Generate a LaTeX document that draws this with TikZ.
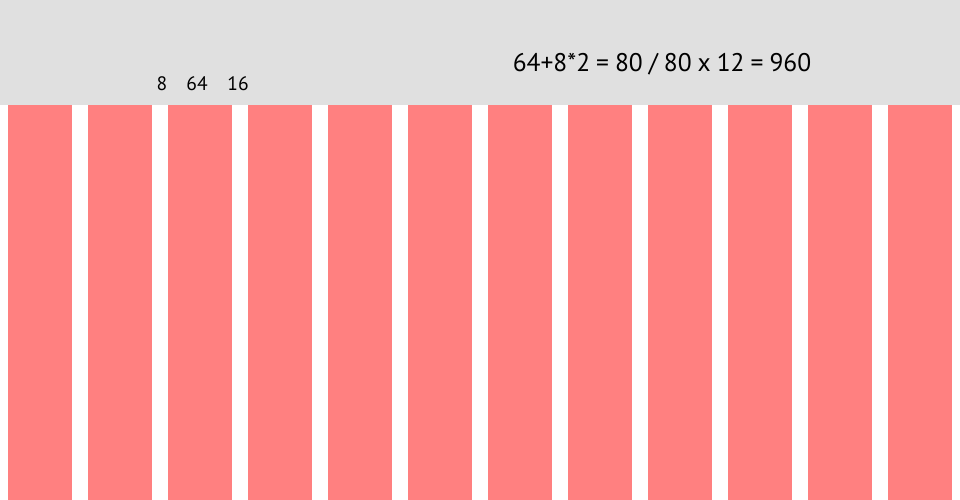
\documentclass[tikz,border=0pt]{standalone}
\usepackage{fontspec}
\setmainfont{PT Sans}
\definecolor{band}{HTML}{E0E0E0}
\definecolor{col}{HTML}{FF8080}
\newcommand{\tightspace}{\spaceskip=6pt plus 0pt minus 0pt\relax}
\tikzset{
  column/.style={fill=col, draw=none},
  small/.style={font=\fontsize{19.5}{22}\selectfont, inner sep=0pt, anchor=base},
  big/.style={font=\fontsize{25.5}{32}\selectfont, inner sep=0pt, anchor=base}
}
\begin{document}
\begin{tikzpicture}[x=1pt,y=1pt]
\useasboundingbox (0,0) rectangle (960,500);
\fill[white] (0,0) rectangle (960,500);
\fill[band] (0,395) rectangle (960,500);
\foreach \i in {0,...,11} {
  \path[column] ({8+80*\i},0) rectangle ({72+80*\i},395);
}
\node[small] (a) at (162,409) {8};
\node[small] (b) at (197,409) {64};
\node[small] (c) at (238,409) {16};
\node[big] (t) at (662,428) {\tightspace 64+8*2 = 80 / 80 x 12 = 960};
\end{tikzpicture}
\end{document}
